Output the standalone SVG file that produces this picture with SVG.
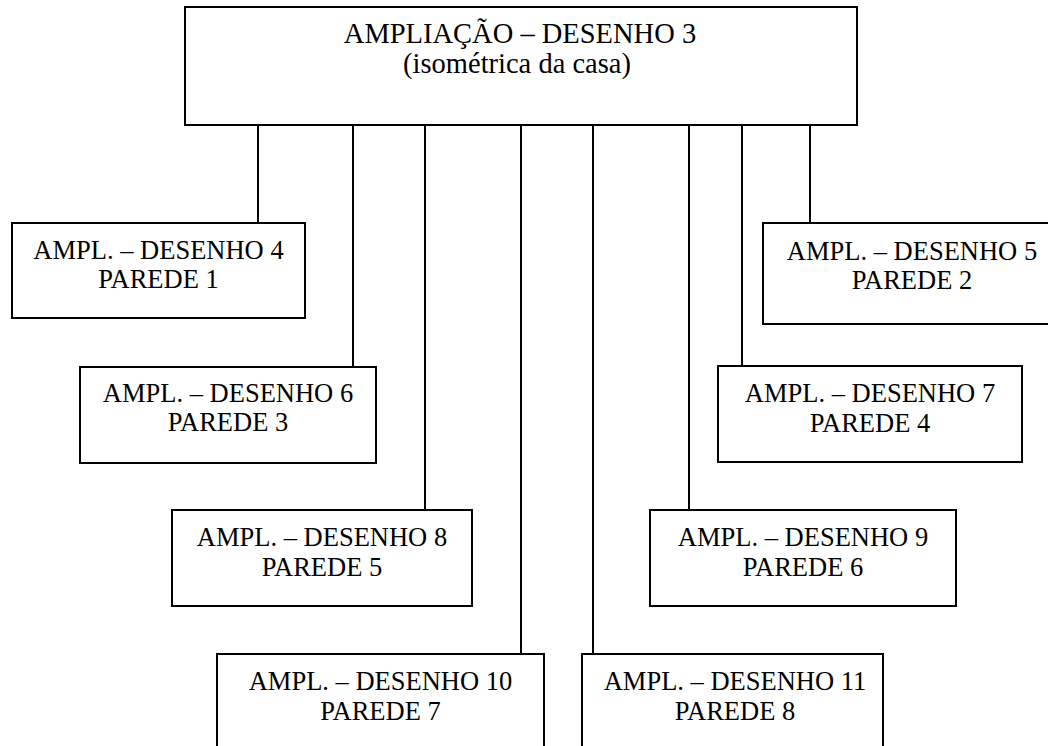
<svg xmlns="http://www.w3.org/2000/svg" width="1048" height="746" viewBox="0 0 1048 746">
  <style>
    .box { fill: #ffffff; stroke: #000000; stroke-width: 2; }
    .link { stroke: #000000; stroke-width: 2; fill: none; }
    text { font-family: "Liberation Serif", "Times New Roman", serif; fill: #000000; text-anchor: middle; }
    .lbl { font-size: 26.5px; }
    .head { font-size: 28.5px; }
  </style>
  <rect x="0" y="0" width="1048" height="746" fill="#ffffff"/>

  <!-- vertical links from the main drawing to each wall -->
  <g id="connectors">
    <line class="link" x1="258" y1="125" x2="258" y2="223"/>
    <line class="link" x1="353" y1="125" x2="353" y2="367"/>
    <line class="link" x1="425" y1="125" x2="425" y2="510"/>
    <line class="link" x1="521" y1="125" x2="521" y2="654"/>
    <line class="link" x1="593" y1="125" x2="593" y2="654"/>
    <line class="link" x1="689" y1="125" x2="689" y2="510"/>
    <line class="link" x1="742" y1="125" x2="742" y2="366"/>
    <line class="link" x1="810" y1="125" x2="810" y2="223"/>
  </g>

  <g id="desenho3">
    <rect class="box" x="185" y="7" width="672" height="118"/>
    <text class="head" x="520" y="43">AMPLIAÇÃO – DESENHO 3</text>
    <text class="head" x="517" y="73">(isométrica da casa)</text>
  </g>

  <g id="desenho4">
    <rect class="box" x="12" y="223" width="293" height="95"/>
    <text class="lbl" x="158.5" y="259">AMPL. – DESENHO 4</text>
    <text class="lbl" x="158.5" y="288">PAREDE 1</text>
  </g>

  <g id="desenho5">
    <rect class="box" x="763" y="223" width="300" height="101"/>
    <text class="lbl" x="912" y="260">AMPL. – DESENHO 5</text>
    <text class="lbl" x="912" y="289">PAREDE 2</text>
  </g>

  <g id="desenho6">
    <rect class="box" x="80" y="367" width="296" height="96"/>
    <text class="lbl" x="228" y="402">AMPL. – DESENHO 6</text>
    <text class="lbl" x="228" y="431">PAREDE 3</text>
  </g>

  <g id="desenho7">
    <rect class="box" x="718" y="366" width="304" height="96"/>
    <text class="lbl" x="870" y="402">AMPL. – DESENHO 7</text>
    <text class="lbl" x="870" y="432">PAREDE 4</text>
  </g>

  <g id="desenho8">
    <rect class="box" x="172" y="510" width="300" height="96"/>
    <text class="lbl" x="322" y="546">AMPL. – DESENHO 8</text>
    <text class="lbl" x="322" y="576">PAREDE 5</text>
  </g>

  <g id="desenho9">
    <rect class="box" x="650" y="510" width="306" height="96"/>
    <text class="lbl" x="803" y="546">AMPL. – DESENHO 9</text>
    <text class="lbl" x="803" y="576">PAREDE 6</text>
  </g>

  <g id="desenho10">
    <rect class="box" x="217" y="654" width="327" height="110"/>
    <text class="lbl" x="380.5" y="690">AMPL. – DESENHO 10</text>
    <text class="lbl" x="380.5" y="720">PAREDE 7</text>
  </g>

  <g id="desenho11">
    <rect class="box" x="582" y="654" width="301" height="110"/>
    <text class="lbl" x="735" y="690">AMPL. – DESENHO 11</text>
    <text class="lbl" x="735" y="720">PAREDE 8</text>
  </g>
</svg>
